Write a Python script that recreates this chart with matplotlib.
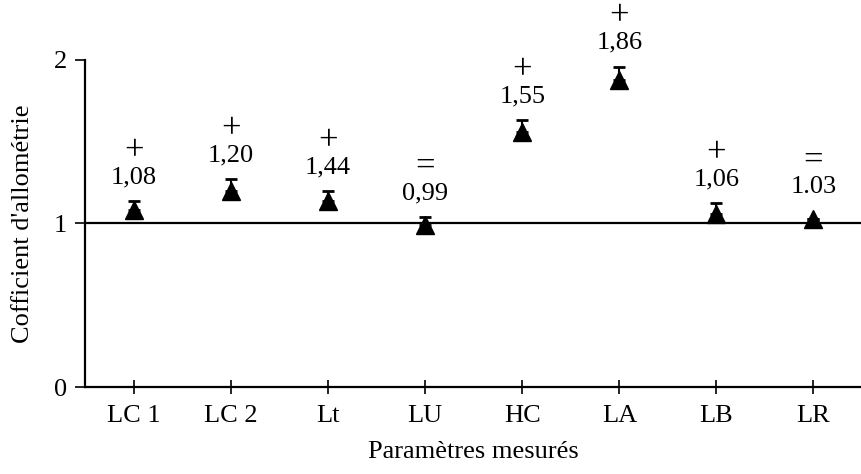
import matplotlib
matplotlib.use("Agg")
import matplotlib.pyplot as plt
import numpy as np

# data
params = ["LC 1", "LC 2", "Lt", "LU", "HC", "LA", "LB", "LR"]
coef = [1.08, 1.20, 1.14, 0.99, 1.56, 1.88, 1.06, 1.03]
err_up = [0.06, 0.07, 0.06, 0.05, 0.07, 0.08, 0.065, 0.0]
value_labels = ["1,08", "1,20", "1,44", "0,99", "1,55", "1,86", "1,06", "1.03"]
signs = ["+", "+", "+", "=", "+", "+", "+", "="]

plt.rcParams["font.family"] = ["Liberation Serif", "DejaVu Serif"]
plt.rcParams["font.size"] = 19

fig = plt.figure(figsize=(8.62, 4.74), dpi=100)
ax = fig.add_axes([0.0986, 0.1835, 0.9014, 0.69])

x = np.arange(len(params))
y = np.array(coef)
e = np.array(err_up)

ax.axhline(1, color="black", linewidth=1.6, zorder=1)
ax.errorbar(x, y, yerr=[np.zeros_like(e), e], fmt="none", ecolor="black",
            elinewidth=1.5, capsize=4.5, capthick=2, zorder=2)
ax.plot(x, y, linestyle="none", marker="^", markersize=13.5, color="black",
        zorder=3)

# labels sit above the top of the error bar (or the marker when no bar)
top = np.maximum(y + e, y + 0.05)
for xi, ti, lab, s in zip(x, top, value_labels, signs):
    ax.annotate(lab, (xi, ti), xytext=(0, 17), textcoords="offset points",
                ha="center", va="center", annotation_clip=False)
    ax.annotate(s, (xi, ti), xytext=(0, 35.5), textcoords="offset points",
                ha="center", va="center", fontsize=25, annotation_clip=False)

ax.set_xlim(-0.505, 7.5)
ax.set_ylim(0, 2)
ax.set_xticks(x)
ax.set_xticklabels(params)
ax.set_yticks([0, 1, 2])
ax.tick_params(axis="x", direction="inout", length=10, width=1.2, pad=8)
ax.tick_params(axis="y", direction="out", length=7, width=1.2, pad=6)
for side in ["top", "right"]:
    ax.spines[side].set_visible(False)
for side in ["left", "bottom"]:
    ax.spines[side].set_linewidth(1.6)

ax.set_xlabel("Paramètres mesurés", labelpad=10)
ax.set_ylabel("Cofficient d'allométrie", labelpad=14)

fig.savefig("out.png", dpi=100)
